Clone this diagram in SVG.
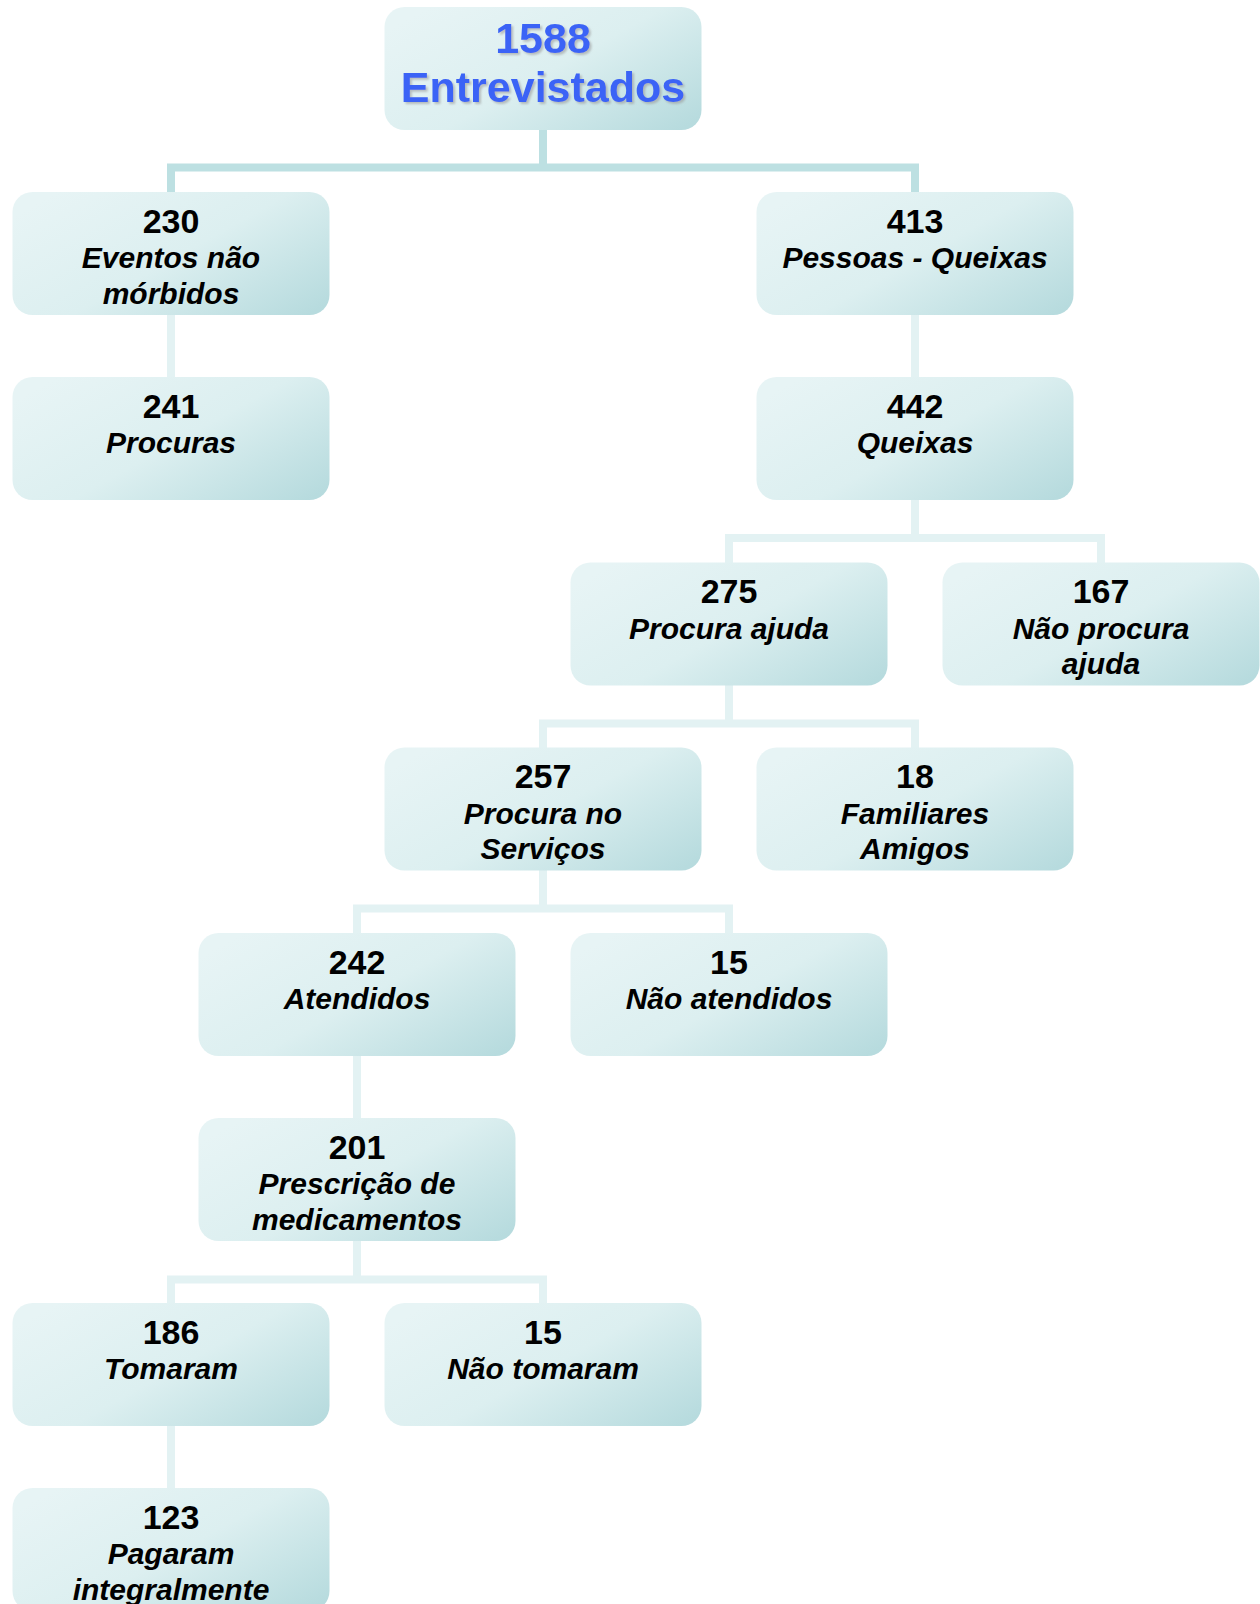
<svg xmlns="http://www.w3.org/2000/svg" width="1260" height="1604" viewBox="0 0 1260 1604">
<defs>
<linearGradient id="g" x1="0" y1="0.2" x2="1" y2="0.9">
<stop offset="0" stop-color="#e7f4f5"/>
<stop offset="0.5" stop-color="#dceff0"/>
<stop offset="1" stop-color="#b7dbde"/>
</linearGradient>
<filter id="sh" x="-10%" y="-10%" width="120%" height="130%">
<feDropShadow dx="2" dy="2" stdDeviation="0.8" flood-color="#9a9a9a" flood-opacity="0.6"/>
</filter>
</defs>
<style>
.box{fill:url(#g)}
.c1{fill:none;stroke:#bde0e2;stroke-width:8}
.c2{fill:none;stroke:#e3f2f3;stroke-width:8}
.n{font-family:"Liberation Sans",Arial,sans-serif;font-weight:bold;font-size:34px;fill:#000;text-anchor:middle}
.l{font-family:"Liberation Sans",Arial,sans-serif;font-weight:bold;font-style:italic;font-size:30px;fill:#000;text-anchor:middle}
.r{font-family:"Liberation Sans",Arial,sans-serif;font-weight:bold;font-size:43px;fill:#3b64f6;text-anchor:middle;filter:url(#sh)}
</style>
<rect width="1260" height="1604" fill="#fff"/>
<g id="connectors">
<path class="c1" d="M543 129 V167.5"/>
<path class="c1" d="M171 192 V167.5 H915 V192"/>
<path class="c2" d="M171 315 V377"/>
<path class="c2" d="M915 315 V377"/>
<path class="c2" d="M915 500 V538"/>
<path class="c2" d="M729 563 V538 H1101 V563"/>
<path class="c2" d="M729 685 V723.5"/>
<path class="c2" d="M543 748 V723.5 H915 V748"/>
<path class="c2" d="M543 870 V908.5"/>
<path class="c2" d="M357 933 V908.5 H729 V933"/>
<path class="c2" d="M357 1055 V1118"/>
<path class="c2" d="M357 1241 V1279.5"/>
<path class="c2" d="M171 1303 V1279.5 H543 V1303"/>
<path class="c2" d="M171 1426 V1488"/>
</g>
<g id="n1588"><rect class="box" x="384.5" y="7" width="317" height="123" rx="20"/><text class="r" x="543" y="53">1588</text><text class="r" x="543" y="101.5">Entrevistados</text></g>
<g id="n230"><rect class="box" x="12.5" y="192" width="317" height="123" rx="20"/><text class="n" x="171" y="232.5">230</text><text class="l" x="171" y="268">Eventos não</text><text class="l" x="171" y="303.5">mórbidos</text></g>
<g id="n413"><rect class="box" x="756.5" y="192" width="317" height="123" rx="20"/><text class="n" x="915" y="232.5">413</text><text class="l" x="915" y="268">Pessoas - Queixas</text></g>
<g id="n241"><rect class="box" x="12.5" y="377" width="317" height="123" rx="20"/><text class="n" x="171" y="417.5">241</text><text class="l" x="171" y="453">Procuras</text></g>
<g id="n442"><rect class="box" x="756.5" y="377" width="317" height="123" rx="20"/><text class="n" x="915" y="417.5">442</text><text class="l" x="915" y="453">Queixas</text></g>
<g id="n275"><rect class="box" x="570.5" y="562.5" width="317" height="123" rx="20"/><text class="n" x="729" y="603">275</text><text class="l" x="729" y="638.5">Procura ajuda</text></g>
<g id="n167"><rect class="box" x="942.5" y="562.5" width="317" height="123" rx="20"/><text class="n" x="1101" y="603">167</text><text class="l" x="1101" y="638.5">Não procura</text><text class="l" x="1101" y="674">ajuda</text></g>
<g id="n257"><rect class="box" x="384.5" y="747.5" width="317" height="123" rx="20"/><text class="n" x="543" y="788">257</text><text class="l" x="543" y="823.5">Procura no</text><text class="l" x="543" y="859">Serviços</text></g>
<g id="n18"><rect class="box" x="756.5" y="747.5" width="317" height="123" rx="20"/><text class="n" x="915" y="788">18</text><text class="l" x="915" y="823.5">Familiares</text><text class="l" x="915" y="859">Amigos</text></g>
<g id="n242"><rect class="box" x="198.5" y="933" width="317" height="123" rx="20"/><text class="n" x="357" y="973.5">242</text><text class="l" x="357" y="1009">Atendidos</text></g>
<g id="n15a"><rect class="box" x="570.5" y="933" width="317" height="123" rx="20"/><text class="n" x="729" y="973.5">15</text><text class="l" x="729" y="1009">Não atendidos</text></g>
<g id="n201"><rect class="box" x="198.5" y="1118" width="317" height="123" rx="20"/><text class="n" x="357" y="1158.5">201</text><text class="l" x="357" y="1194">Prescrição de</text><text class="l" x="357" y="1229.5">medicamentos</text></g>
<g id="n186"><rect class="box" x="12.5" y="1303" width="317" height="123" rx="20"/><text class="n" x="171" y="1343.5">186</text><text class="l" x="171" y="1379">Tomaram</text></g>
<g id="n15b"><rect class="box" x="384.5" y="1303" width="317" height="123" rx="20"/><text class="n" x="543" y="1343.5">15</text><text class="l" x="543" y="1379">Não tomaram</text></g>
<g id="n123"><rect class="box" x="12.5" y="1488" width="317" height="123" rx="20"/><text class="n" x="171" y="1528.5">123</text><text class="l" x="171" y="1564">Pagaram</text><text class="l" x="171" y="1599.5">integralmente</text></g>
</svg>
